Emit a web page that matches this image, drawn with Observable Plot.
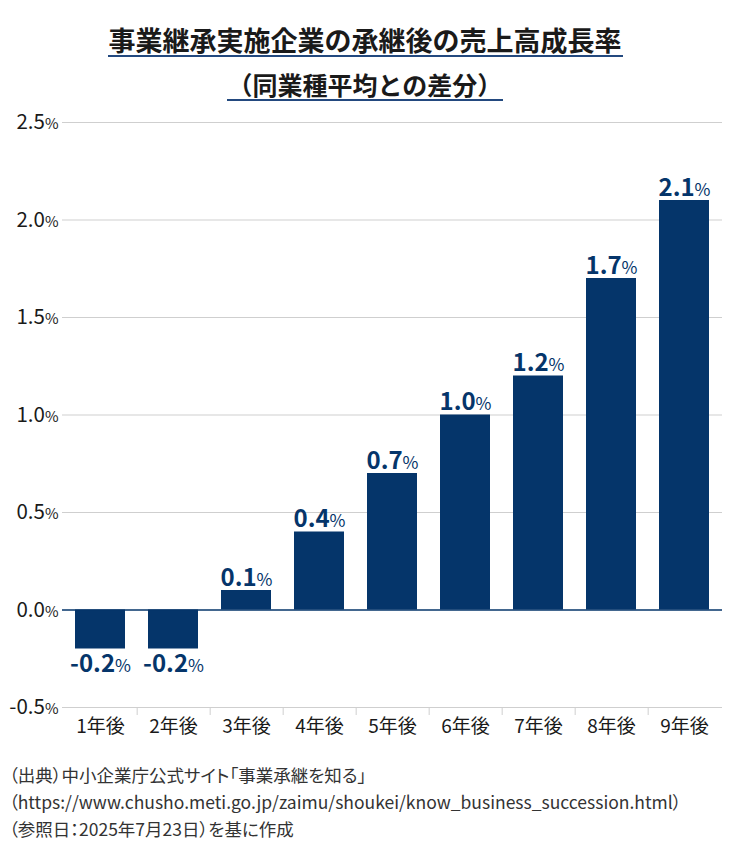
<!DOCTYPE html>
<html><head><meta charset="utf-8">
<script src="https://cdn.jsdelivr.net/npm/d3@7"></script>
<script src="https://cdn.jsdelivr.net/npm/@observablehq/plot@0.6"></script>
<style>
body{margin:0;background:#fff;width:730px;font-family:'Noto Sans CJK JP','Noto Sans',sans-serif;}
#head{position:relative;height:105px;}
.tl{position:absolute;left:0;width:730px;text-align:center;font-weight:bold;color:#1a1a1a;}
.tl span{display:inline-block;line-height:30px;border-bottom:2px solid #23497f;padding:0 1px;}
#foot{padding-left:9px;font-size:17.5px;color:#333;line-height:27px;margin-top:16px;font-feature-settings:"palt";}
</style></head>
<body>
<div id="head">
  <div class="tl" style="top:20px;font-size:27px"><span>事業継承実施企業の承継後の売上高成長率</span></div>
  <div class="tl" style="top:66px;font-size:25px"><span>（同業種平均との差分）</span></div>
</div>
<div id="chart"></div>
<div id="foot">
  <div>（出典）中小企業庁公式サイト「事業承継を知る」</div>
  <div>（https://www.chusho.meti.go.jp/zaimu/shoukei/know_business_succession.html）</div>
  <div>（参照日：2025年7月23日）を基に作成</div>
</div>
<script>
const categories = ["1年後","2年後","3年後","4年後","5年後","6年後","7年後","8年後","9年後"];
const values = [-0.2,-0.2,0.1,0.4,0.7,1.0,1.2,1.7,2.1];
const yTicks = [-0.5,0,0.5,1.0,1.5,2.0,2.5];

const data = categories.map((c,i)=>({cat:c, value:values[i]}));
const navy = "#05356a";
const W = 730, ML = 62, MR = 8;
const half = (W - ML - MR) / categories.length / 2;

const chart = Plot.plot({
  width: W, height: 640,
  marginTop: 17, marginBottom: 38, marginLeft: ML, marginRight: MR,
  style: {fontFamily: "'Noto Sans CJK JP','Noto Sans',sans-serif", color: "#1a1a1a", background: "#fff"},
  x: {domain: categories, paddingInner: 0.32, paddingOuter: 0.16, label: null},
  y: {domain: [-0.5, 2.5], label: null},
  marks: [
    Plot.ruleY(yTicks.filter(d => d !== 0), {stroke: "#cfcfcf", strokeWidth: 1}),
    Plot.axisY(yTicks, {tickSize: 0, tickPadding: 4, tickFormat: d => d.toFixed(1) + "%", fontSize: 20.5, label: null, fill: "#1a1a1a"}),
    Plot.axisX({tickSize: 0, tickPadding: 12, fontSize: 19, label: null, fill: "#1a1a1a"}),
    Plot.axisX(categories.slice(0, 8), {tickSize: 8, dx: half, text: null, stroke: "#cfcfcf", label: null}),
    Plot.barY(data, {x: "cat", y: "value", fill: navy}),
    Plot.ruleY([0], {stroke: navy, strokeWidth: 1.5}),
    Plot.text(data.filter(d => d.value >= 0), {x: "cat", y: "value", text: d => d.value.toFixed(1) + "%", lineAnchor: "bottom", dy: -5, fontSize: 24, fontWeight: "bold", fill: navy}),
    Plot.text(data.filter(d => d.value < 0), {x: "cat", y: "value", text: d => d.value.toFixed(1) + "%", lineAnchor: "top", dy: 6, fontSize: 24, fontWeight: "bold", fill: navy})
  ]
});

chart.querySelectorAll("text").forEach(t => {
  const s = t.textContent;
  if (s.endsWith("%") && t.children.length === 0) {
    t.textContent = s.slice(0, -1);
    const ts = document.createElementNS("http://www.w3.org/2000/svg", "tspan");
    ts.style.fontSize = "72%";
    ts.style.fontWeight = "normal";
    ts.textContent = "%";
    t.appendChild(ts);
  }
});
document.getElementById("chart").appendChild(chart);
</script>
</body></html>
